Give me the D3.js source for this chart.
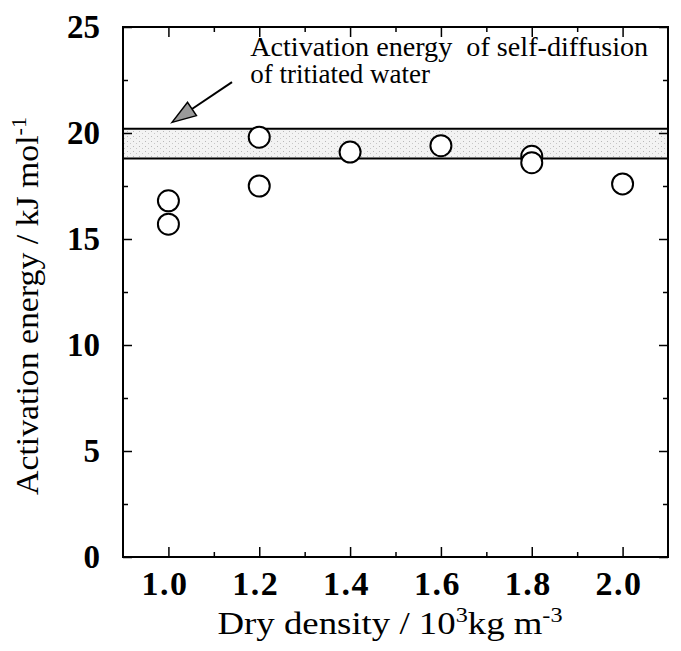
<!DOCTYPE html>
<html>
<head>
<meta charset="utf-8">
<script src="https://cdn.jsdelivr.net/npm/d3@7"></script>
<style>
  html, body { margin: 0; padding: 0; background: #fff; }
  svg { display: block; }
</style>
</head>
<body>
<svg id="chart" width="681" height="651"></svg>
<script>
// Measured activation energies vs. dry density
const density = [1.0, 1.0, 1.2, 1.2, 1.4, 1.6, 1.8, 1.8, 2.0];
const energy  = [16.8, 15.7, 19.8, 17.5, 19.1, 19.4, 18.9, 18.6, 17.6];

// Self-diffusion of tritiated water: range of activation energy
const bandLow = 18.8;
const bandHigh = 20.2;

const xTicks = [1.0, 1.2, 1.4, 1.6, 1.8, 2.0];
const xMinor = [1.1, 1.3, 1.5, 1.7, 1.9];
const yTicks = [0, 5, 10, 15, 20, 25];
const yMinor = [2.5, 7.5, 12.5, 17.5, 22.5];

const svg = d3.select("#chart");
const plotL = 123, plotR = 668, plotT = 27, plotB = 557;

const x = d3.scaleLinear().domain([0.9, 2.1]).range([plotL, plotR]);
const y = d3.scaleLinear().domain([0, 25]).range([plotB, plotT]);

const serif = "'Liberation Serif', 'Times New Roman', serif";

// light stipple used for the band
const defs = svg.append("defs");
const pat = defs.append("pattern").attr("id", "stipple")
  .attr("width", 6).attr("height", 5).attr("patternUnits", "userSpaceOnUse");
pat.append("rect").attr("width", 6).attr("height", 5).attr("fill", "#f3f3f3");
pat.append("rect").attr("x", 1).attr("y", 1).attr("width", 1).attr("height", 1).attr("fill", "#b8b8b8");
pat.append("rect").attr("x", 4).attr("y", 3).attr("width", 1).attr("height", 1).attr("fill", "#c8c8c8");

// shaded band with its boundary lines
svg.append("rect")
  .attr("x", plotL).attr("width", plotR - plotL)
  .attr("y", y(bandHigh)).attr("height", y(bandLow) - y(bandHigh))
  .attr("fill", "url(#stipple)");
[bandHigh, bandLow].forEach(v => {
  svg.append("line")
    .attr("x1", plotL).attr("x2", plotR)
    .attr("y1", y(v)).attr("y2", y(v))
    .attr("stroke", "#000").attr("stroke-width", 2);
});

// axes: ticks pointing inward on all four sides
function addAxis(axis, tr) {
  const g = svg.append("g").attr("transform", tr).call(axis);
  g.select(".domain").remove();
  g.selectAll("line").attr("stroke", "#000").attr("stroke-width", 1.5);
  return g;
}
const bx = addAxis(d3.axisBottom(x).tickValues(xTicks).tickSize(-10).tickPadding(14)
  .tickFormat(d3.format(".1f")), `translate(0,${plotB})`);
bx.selectAll("text").attr("font-family", serif).attr("font-weight", "bold")
  .attr("font-size", 34).attr("letter-spacing", 1.5).attr("dx", -4).attr("fill", "#000");
addAxis(d3.axisBottom(x).tickValues(xMinor).tickSize(-5).tickFormat(""), `translate(0,${plotB})`);
addAxis(d3.axisTop(x).tickValues(xTicks).tickSize(-10).tickFormat(""), `translate(0,${plotT})`);
addAxis(d3.axisTop(x).tickValues(xMinor).tickSize(-5).tickFormat(""), `translate(0,${plotT})`);

const ly = addAxis(d3.axisLeft(y).tickValues(yTicks).tickSize(-9).tickPadding(23)
  .tickFormat(d3.format("d")), `translate(${plotL},0)`);
ly.selectAll("text").attr("font-family", serif).attr("font-weight", "bold")
  .attr("font-size", 33).attr("fill", "#000");
addAxis(d3.axisLeft(y).tickValues(yMinor).tickSize(-5).tickFormat(""), `translate(${plotL},0)`);
addAxis(d3.axisRight(y).tickValues(yTicks).tickSize(-9).tickFormat(""), `translate(${plotR},0)`);
addAxis(d3.axisRight(y).tickValues(yMinor).tickSize(-5).tickFormat(""), `translate(${plotR},0)`);

// frame
svg.append("rect")
  .attr("x", plotL).attr("y", plotT)
  .attr("width", plotR - plotL).attr("height", plotB - plotT)
  .attr("fill", "none").attr("stroke", "#000").attr("stroke-width", 2);

// data points
svg.append("g").selectAll("circle")
  .data(density.map((d, i) => ({ d, e: energy[i] })))
  .join("circle")
  .attr("cx", p => x(p.d)).attr("cy", p => y(p.e))
  .attr("r", 10.5)
  .attr("fill", "#fff").attr("stroke", "#000").attr("stroke-width", 2);

// annotation: arrow pointing at the band
const tail = [x(1.14), y(22.4)];
const tip = [x(1.008), y(20.5)];
const ang = Math.atan2(tip[1] - tail[1], tip[0] - tail[0]);
const headLen = 24, headW = 8;
const base = [tip[0] - headLen * Math.cos(ang), tip[1] - headLen * Math.sin(ang)];
svg.append("line")
  .attr("x1", tail[0]).attr("y1", tail[1]).attr("x2", base[0]).attr("y2", base[1])
  .attr("stroke", "#000").attr("stroke-width", 2);
svg.append("polygon")
  .attr("points", [
    tip,
    [base[0] + headW * Math.sin(ang), base[1] - headW * Math.cos(ang)],
    [base[0] - headW * Math.sin(ang), base[1] + headW * Math.cos(ang)]
  ].map(p => p.join(",")).join(" "))
  .attr("fill", "#9a9a9a").attr("stroke", "#000").attr("stroke-width", 1.5);

const noteX = x(1.18);
svg.append("text")
  .attr("x", noteX).attr("y", 56)
  .attr("font-family", serif).attr("font-size", 27).attr("fill", "#000")
  .attr("textLength", 398).attr("lengthAdjust", "spacingAndGlyphs")
  .text("Activation energy\u00a0 of self-diffusion");
svg.append("text")
  .attr("x", noteX).attr("y", 83)
  .attr("font-family", serif).attr("font-size", 27).attr("fill", "#000")
  .text("of tritiated water");

// axis titles
const xt = svg.append("text")
  .attr("x", 390).attr("y", 634)
  .attr("text-anchor", "middle")
  .attr("font-family", serif).attr("font-size", 32).attr("fill", "#000")
  .attr("textLength", 345).attr("lengthAdjust", "spacingAndGlyphs");
xt.append("tspan").text("Dry density / 10");
xt.append("tspan").attr("font-size", 21).attr("dy", -12).text("3");
xt.append("tspan").attr("dy", 12).text("kg m");
xt.append("tspan").attr("font-size", 21).attr("dy", -12).text("-3");

const yt = svg.append("text")
  .attr("transform", "translate(38,306) rotate(-90)")
  .attr("text-anchor", "middle")
  .attr("font-family", serif).attr("font-size", 32).attr("fill", "#000")
  .attr("textLength", 378).attr("lengthAdjust", "spacingAndGlyphs");
yt.append("tspan").text("Activation energy / kJ mol");
yt.append("tspan").attr("font-size", 21).attr("dy", -12).text("-1");
</script>
</body>
</html>
